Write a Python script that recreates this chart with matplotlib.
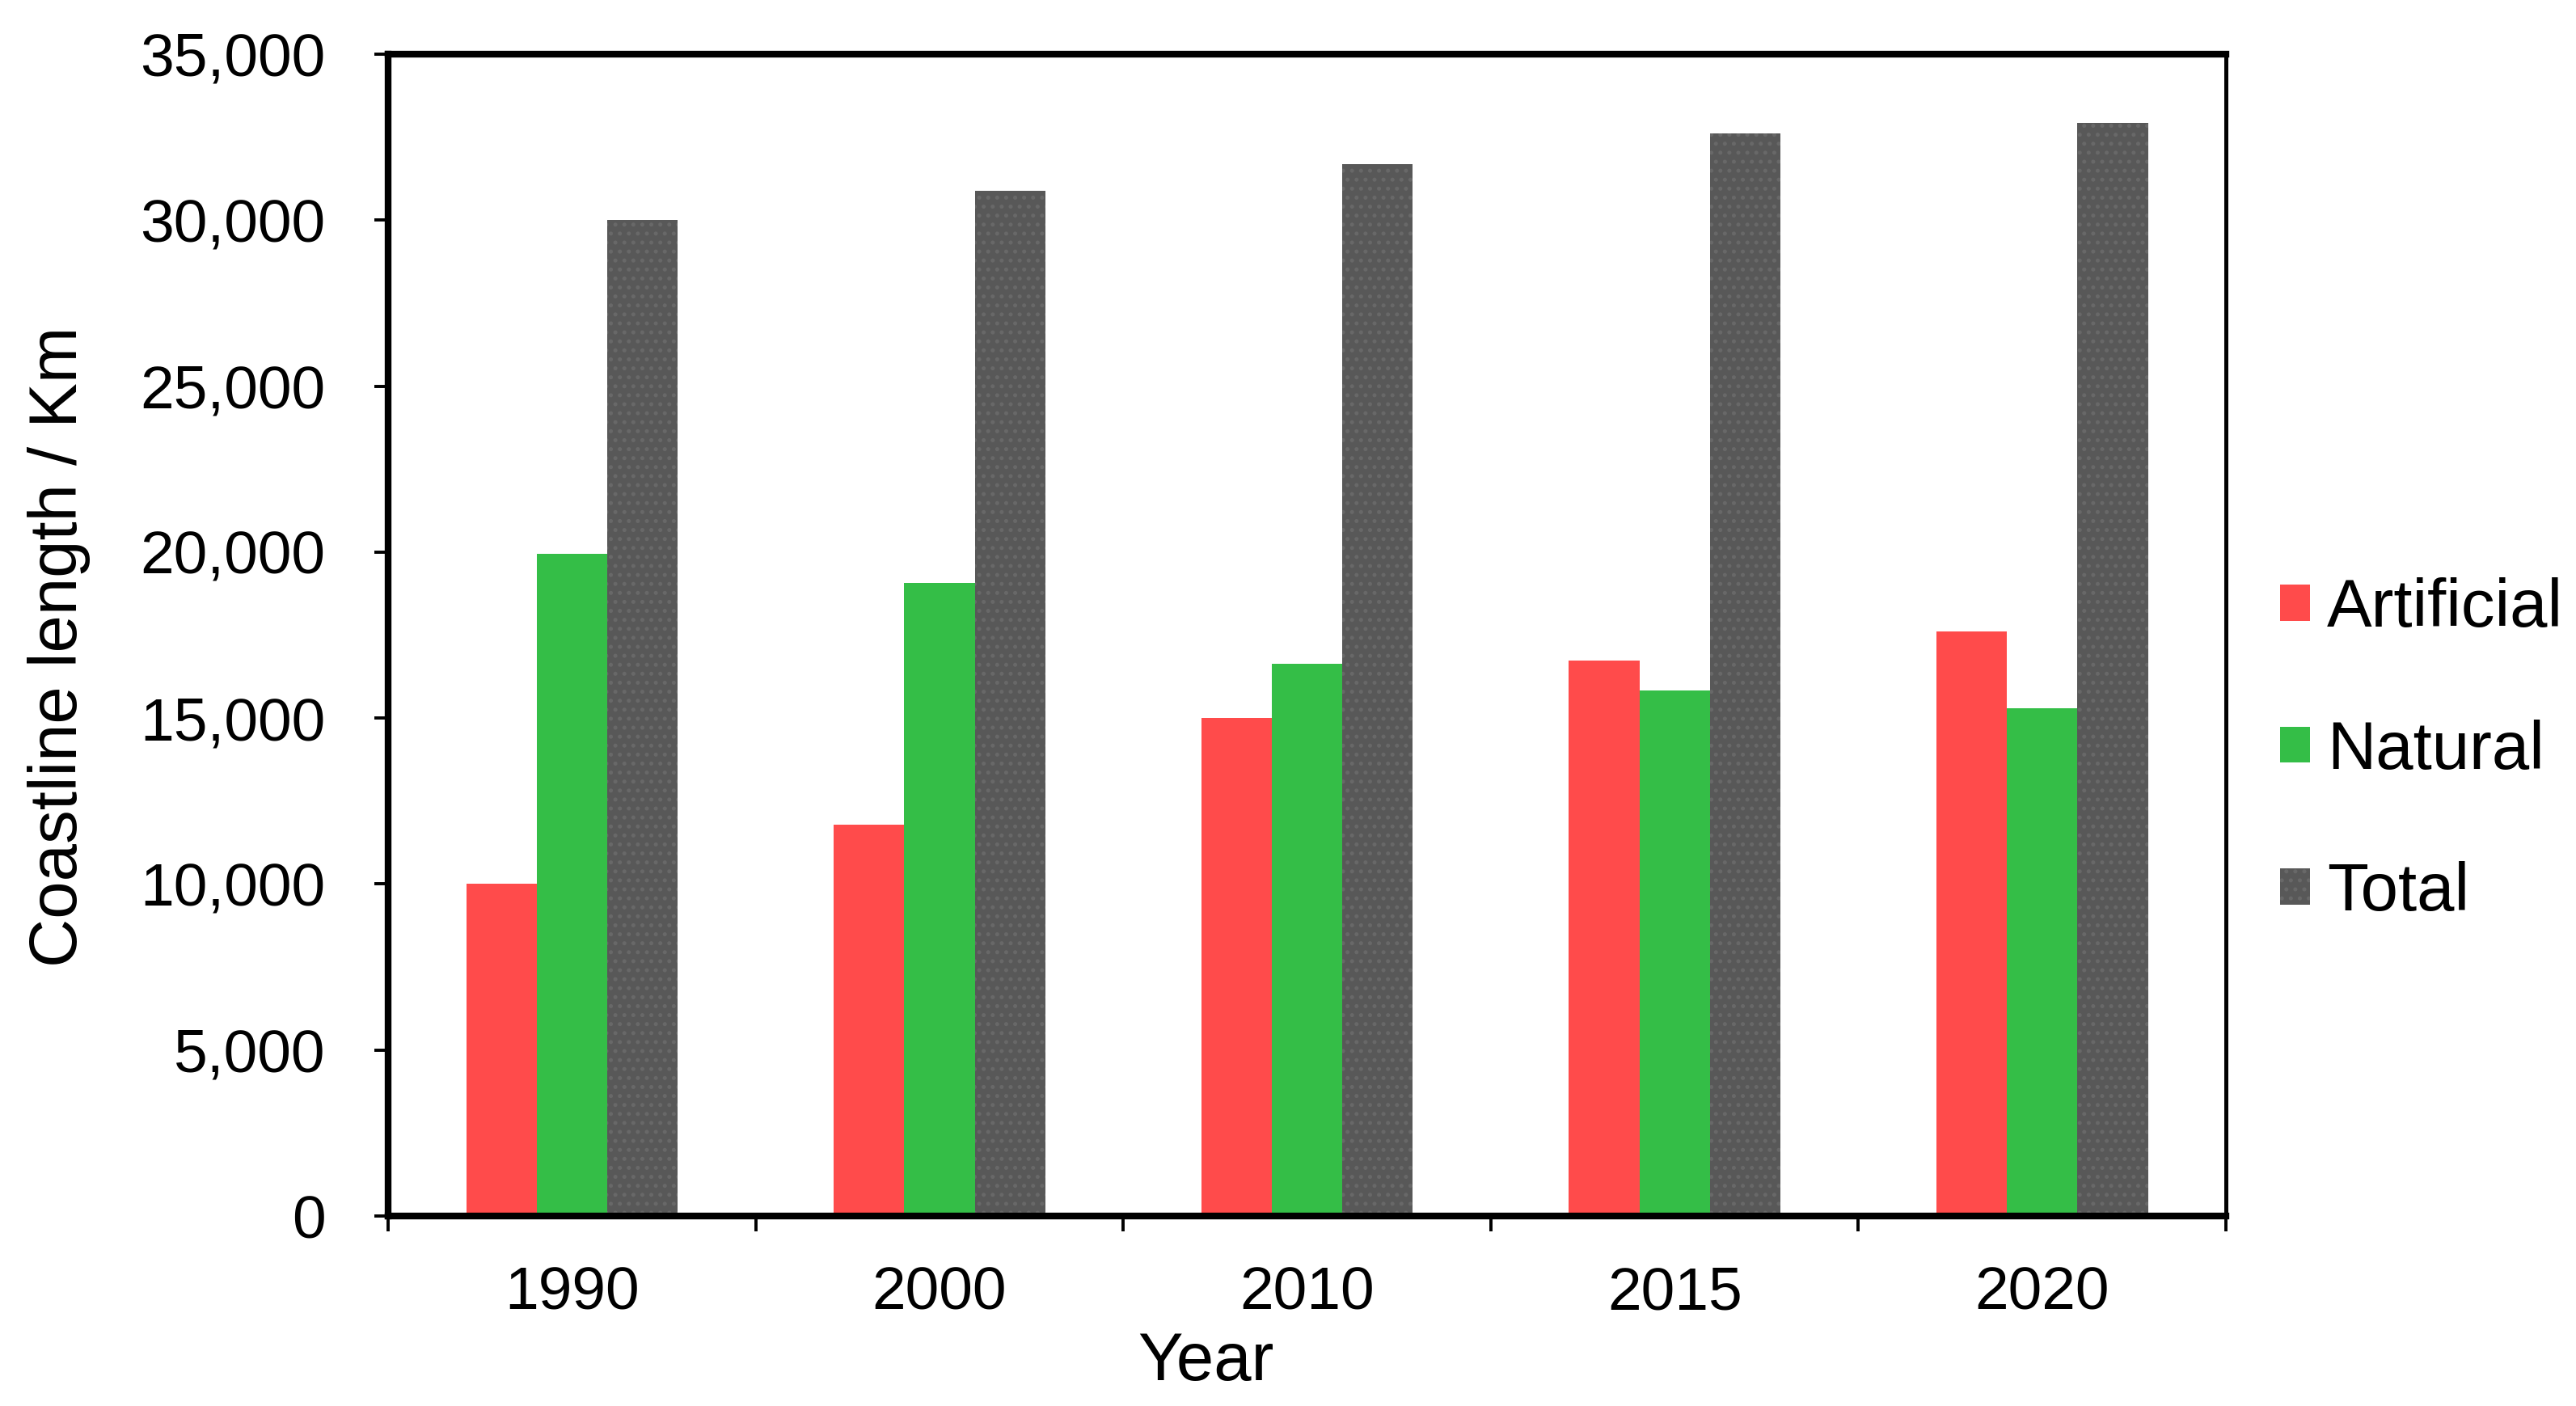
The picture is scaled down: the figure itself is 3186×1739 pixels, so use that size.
import numpy as np
import matplotlib
matplotlib.use('Agg')
import matplotlib.pyplot as plt
from matplotlib.ticker import FuncFormatter, FixedLocator

plt.rcParams['font.family'] = ['Liberation Sans', 'DejaVu Sans']
plt.rcParams['hatch.linewidth'] = 1.0

# Data (km)
years = ['1990', '2000', '2010', '2015', '2020']
artificial = [10000, 11780, 15000, 16730, 17620]
natural = [19950, 19060, 16630, 15840, 15300]
total = [30000, 30890, 31680, 32620, 32920]
series_names = ['Artificial', 'Natural', 'Total']

red = '#FF4B4B'
green = '#34BE47'
gray = '#585858'

fig = plt.figure(figsize=(15.93, 8.695), dpi=200)
ax = fig.add_axes([0.1507, 0.1351, 0.8641 - 0.1507, 0.9615 - 0.1351])

x = np.arange(len(years))
w = 0.192
ax.bar(x - w, artificial, w, color=red, label=series_names[0], linewidth=0)
ax.bar(x, natural, w, color=green, label=series_names[1], linewidth=0)
ax.bar(x + w, total, w, color=gray, label=series_names[2], linewidth=0,
       hatch='...', edgecolor='#686868')

ax.set_xlim(-0.5, len(years) - 0.5)
ax.set_ylim(0, 35000)
ax.set_yticks(np.arange(0, 35001, 5000))
ax.yaxis.set_major_formatter(FuncFormatter(lambda v, p: f'{int(v):,}'))

# category labels at centres, tick marks at the boundaries
ax.set_xticks(x)
ax.set_xticklabels(years)
ax.xaxis.set_minor_locator(FixedLocator(np.arange(-0.5, len(years), 1.0)))
ax.tick_params(axis='x', which='major', length=0, pad=22, labelsize=27)
ax.tick_params(axis='x', which='minor', length=7, width=1.4, direction='out')
ax.tick_params(axis='y', which='major', length=6, width=1.4, direction='out',
               pad=22, labelsize=27)

for side in ['left', 'bottom', 'top']:
    ax.spines[side].set_linewidth(3.0)
ax.spines['right'].set_linewidth(1.8)

ax.set_xlabel('Year', fontsize=30)
ax.xaxis.set_label_coords(0.445, -0.099)
ax.set_ylabel('Coastline length / Km', fontsize=30)
ax.yaxis.set_label_coords(-0.162, 0.49)

fig.legend(loc='center left', bbox_to_anchor=(0.885, 0.466), frameon=False,
           fontsize=30, handlelength=0.45, handleheight=0.45,
           handletextpad=0.25, labelspacing=1.17, borderpad=0,
           borderaxespad=0)

fig.savefig('out.png', dpi=200)
